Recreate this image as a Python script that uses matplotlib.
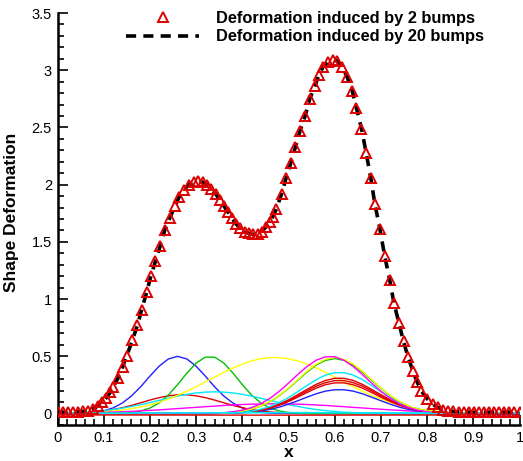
import numpy as np
import matplotlib
matplotlib.use("Agg")
import matplotlib.pyplot as plt
from matplotlib.ticker import MultipleLocator

plt.rcParams['font.family'] = ['Liberation Sans', 'DejaVu Sans']

# =========================
# DADOS
# =========================
# curva total (pontos da malha)
x_curve = [0.000, 0.011, 0.022, 0.033, 0.044, 0.055, 0.066, 0.076, 0.087, 0.097,
           0.106, 0.114, 0.121, 0.131, 0.141, 0.150, 0.162, 0.173, 0.182, 0.193,
           0.202, 0.212, 0.222, 0.232, 0.243, 0.254, 0.263, 0.273, 0.284, 0.295,
           0.305, 0.315, 0.324, 0.333, 0.342, 0.351, 0.360, 0.369, 0.377, 0.386,
           0.395, 0.405, 0.414, 0.424, 0.433, 0.442, 0.451, 0.459, 0.466, 0.474,
           0.485, 0.495, 0.505, 0.515, 0.525, 0.536, 0.546, 0.557, 0.566, 0.575,
           0.586, 0.596, 0.606, 0.616, 0.627, 0.638, 0.647, 0.658, 0.668, 0.678,
           0.687, 0.698, 0.708, 0.719, 0.728, 0.739, 0.749, 0.759, 0.769, 0.778,
           0.787, 0.800, 0.812, 0.823, 0.835, 0.846, 0.857, 0.868, 0.879, 0.890,
           0.901, 0.912, 0.923, 0.934, 0.945, 0.956, 0.967, 0.978, 0.989, 1.000]

y_two_bumps = [0.012, 0.012, 0.012, 0.013, 0.015, 0.018, 0.025, 0.040, 0.065, 0.100,
               0.140, 0.185, 0.235, 0.309, 0.410, 0.506, 0.640, 0.770, 0.906, 1.060,
               1.200, 1.330, 1.460, 1.600, 1.710, 1.810, 1.890, 1.950, 2.000, 2.020,
               2.030, 2.020, 2.000, 1.965, 1.920, 1.870, 1.815, 1.760, 1.710, 1.660,
               1.620, 1.590, 1.575, 1.565, 1.570, 1.590, 1.630, 1.670, 1.720, 1.790,
               1.920, 2.060, 2.190, 2.330, 2.470, 2.600, 2.750, 2.860, 2.960, 3.030,
               3.070, 3.090, 3.080, 3.030, 2.940, 2.820, 2.670, 2.490, 2.280, 2.060,
               1.830, 1.610, 1.380, 1.170, 0.970, 0.790, 0.630, 0.490, 0.376, 0.280,
               0.200, 0.130, 0.082, 0.053, 0.035, 0.025, 0.018, 0.015, 0.013, 0.012,
               0.012, 0.012, 0.012, 0.012, 0.012, 0.012, 0.012, 0.012, 0.012, 0.012]

y_twenty_bumps = y_two_bumps

# bumps individuais (grade de 0.02)
x_bump = np.linspace(0, 1, 51)

blue_1 = [0.000, 0.001, 0.002, 0.004, 0.011, 0.024, 0.049, 0.091, 0.153, 0.234,
          0.327, 0.414, 0.477, 0.500, 0.477, 0.414, 0.327, 0.234, 0.153, 0.091,
          0.049, 0.024, 0.011, 0.004, 0.002, 0.001, 0, 0, 0, 0,
          0, 0, 0, 0, 0, 0, 0, 0, 0, 0,
          0, 0, 0, 0, 0, 0, 0, 0, 0, 0, 0]

green_1 = [0, 0, 0, 0, 0, 0, 0.001, 0.003, 0.009, 0.022,
           0.048, 0.093, 0.162, 0.253, 0.353, 0.441, 0.493, 0.493, 0.441, 0.353,
           0.253, 0.162, 0.093, 0.048, 0.022, 0.009, 0.003, 0.001, 0, 0,
           0, 0, 0, 0, 0, 0, 0, 0, 0, 0,
           0, 0, 0, 0, 0, 0, 0, 0, 0, 0, 0]

yellow_1 = [0.002, 0.003, 0.004, 0.007, 0.010, 0.015, 0.022, 0.030, 0.042, 0.057,
            0.076, 0.099, 0.127, 0.159, 0.195, 0.234, 0.276, 0.318, 0.360, 0.399,
            0.432, 0.460, 0.479, 0.489, 0.489, 0.479, 0.460, 0.432, 0.399, 0.360,
            0.318, 0.276, 0.234, 0.195, 0.159, 0.127, 0.099, 0.076, 0.057, 0.042,
            0.030, 0.022, 0.015, 0.010, 0.007, 0.004, 0.003, 0.002, 0.001, 0.001, 0.000]

red_left = [0.001, 0.002, 0.004, 0.008, 0.014, 0.022, 0.035, 0.051, 0.071, 0.094,
            0.118, 0.139, 0.155, 0.164, 0.164, 0.155, 0.139, 0.118, 0.094, 0.071,
            0.051, 0.035, 0.022, 0.014, 0.008, 0.004, 0.002, 0.001, 0, 0,
            0, 0, 0, 0, 0, 0, 0, 0, 0, 0,
            0, 0, 0, 0, 0, 0, 0, 0, 0, 0, 0]

cyan_left = [0.003, 0.005, 0.008, 0.012, 0.018, 0.026, 0.035, 0.047, 0.062, 0.078,
             0.096, 0.115, 0.134, 0.152, 0.168, 0.180, 0.187, 0.190, 0.187, 0.180,
             0.168, 0.152, 0.134, 0.115, 0.096, 0.078, 0.062, 0.047, 0.035, 0.026,
             0.018, 0.012, 0.008, 0.005, 0.003, 0.002, 0.001, 0, 0, 0,
             0, 0, 0, 0, 0, 0, 0, 0, 0, 0, 0]

magenta_wide = [0.003, 0.004, 0.005, 0.006, 0.008, 0.010, 0.013, 0.016, 0.019, 0.023,
                0.028, 0.032, 0.038, 0.043, 0.049, 0.054, 0.060, 0.065, 0.071, 0.075,
                0.079, 0.082, 0.084, 0.085, 0.085, 0.084, 0.082, 0.079, 0.075, 0.071,
                0.065, 0.060, 0.054, 0.049, 0.043, 0.038, 0.032, 0.028, 0.023, 0.019,
                0.016, 0.013, 0.010, 0.008, 0.006, 0.005, 0.004, 0.003, 0.002, 0.002, 0.001]

yellow_2 = [0, 0, 0, 0, 0, 0, 0, 0, 0, 0,
            0, 0, 0, 0, 0, 0, 0.001, 0.002, 0.005, 0.011,
            0.022, 0.039, 0.066, 0.106, 0.159, 0.224, 0.297, 0.370, 0.432, 0.475,
            0.490, 0.475, 0.432, 0.370, 0.297, 0.224, 0.159, 0.106, 0.066, 0.039,
            0.022, 0.011, 0.005, 0.002, 0.001, 0, 0, 0, 0, 0, 0]

green_2 = [0, 0, 0, 0, 0, 0, 0, 0, 0, 0,
           0, 0, 0, 0, 0, 0, 0.001, 0.002, 0.005, 0.011,
           0.021, 0.038, 0.065, 0.104, 0.156, 0.220, 0.291, 0.362, 0.424, 0.465,
           0.480, 0.465, 0.424, 0.362, 0.291, 0.220, 0.156, 0.104, 0.065, 0.038,
           0.021, 0.011, 0.005, 0.002, 0.001, 0, 0, 0, 0, 0, 0]

magenta_1 = [0, 0, 0, 0, 0, 0, 0, 0, 0, 0,
             0, 0, 0, 0, 0, 0.001, 0.002, 0.004, 0.008, 0.016,
             0.030, 0.052, 0.086, 0.134, 0.194, 0.266, 0.341, 0.411, 0.466, 0.496,
             0.496, 0.466, 0.411, 0.341, 0.266, 0.194, 0.134, 0.086, 0.052, 0.030,
             0.016, 0.008, 0.004, 0.002, 0.001, 0, 0, 0, 0, 0, 0]

cyan_1 = [0, 0, 0, 0, 0, 0, 0, 0, 0, 0,
          0, 0, 0, 0, 0, 0, 0.001, 0.001, 0.003, 0.006,
          0.011, 0.021, 0.038, 0.062, 0.096, 0.140, 0.191, 0.245, 0.296, 0.336,
          0.357, 0.357, 0.336, 0.296, 0.245, 0.191, 0.140, 0.096, 0.062, 0.038,
          0.021, 0.011, 0.006, 0.003, 0.001, 0.001, 0, 0, 0, 0, 0]

red_1 = [0, 0, 0, 0, 0, 0, 0, 0, 0, 0,
         0, 0, 0, 0, 0, 0, 0, 0.001, 0.002, 0.005,
         0.010, 0.018, 0.032, 0.053, 0.083, 0.120, 0.165, 0.211, 0.255, 0.289,
         0.308, 0.308, 0.289, 0.255, 0.211, 0.165, 0.120, 0.083, 0.053, 0.032,
         0.018, 0.010, 0.005, 0.002, 0.001, 0, 0, 0, 0, 0, 0]

red_2 = [0, 0, 0, 0, 0, 0, 0, 0, 0, 0,
         0, 0, 0, 0, 0, 0, 0, 0.001, 0.002, 0.005,
         0.009, 0.017, 0.030, 0.050, 0.077, 0.113, 0.154, 0.198, 0.239, 0.270,
         0.288, 0.288, 0.270, 0.239, 0.198, 0.154, 0.113, 0.077, 0.050, 0.030,
         0.017, 0.009, 0.005, 0.002, 0.001, 0, 0, 0, 0, 0, 0]

red_3 = [0, 0, 0, 0, 0, 0, 0, 0, 0, 0,
         0, 0, 0, 0, 0, 0, 0, 0.001, 0.002, 0.004,
         0.009, 0.016, 0.028, 0.047, 0.072, 0.105, 0.143, 0.184, 0.222, 0.252,
         0.268, 0.268, 0.252, 0.222, 0.184, 0.143, 0.105, 0.072, 0.047, 0.028,
         0.016, 0.009, 0.004, 0.002, 0.001, 0, 0, 0, 0, 0, 0]

blue_2 = [0, 0, 0, 0, 0, 0, 0, 0, 0, 0,
          0, 0, 0, 0, 0, 0, 0, 0.001, 0.002, 0.003,
          0.007, 0.013, 0.022, 0.036, 0.056, 0.082, 0.112, 0.143, 0.173, 0.196,
          0.208, 0.208, 0.196, 0.173, 0.143, 0.112, 0.082, 0.056, 0.036, 0.022,
          0.013, 0.007, 0.003, 0.002, 0.001, 0, 0, 0, 0, 0, 0]

# bumps quase nulos
x_flat = [0.0, 0.25, 0.5, 0.75, 1.0]
red_flat = [-0.012, -0.013, -0.014, -0.013, -0.012]
cyan_flat = [0.002, 0.005, 0.008, 0.005, 0.002]
x_tail = [0.90, 0.94, 0.96, 0.98, 1.00]
blue_tail = [0.0, -0.004, -0.010, -0.008, -0.003]

x_ticks = [0, 0.1, 0.2, 0.3, 0.4, 0.5, 0.6, 0.7, 0.8, 0.9, 1]
x_tick_labels = ["0", "0.1", "0.2", "0.3", "0.4", "0.5", "0.6", "0.7", "0.8", "0.9", "1"]
y_ticks = [0, 0.5, 1, 1.5, 2, 2.5, 3, 3.5]
y_tick_labels = ["0", "0.5", "1", "1.5", "2", "2.5", "3", "3.5"]


# =========================
# GRAFICO
# =========================
fig = plt.figure(figsize=(5.23, 4.61), dpi=100)
ax = fig.add_axes([57.5 / 523, 0.0781, (519.5 - 57.5) / 523, 0.8937])

bumps = [
    (blue_1, "#2020ff"), (red_left, "#e00000"), (green_1, "#00c000"),
    (cyan_left, "#00e8ff"), (yellow_1, "#ffff00"), (magenta_wide, "#ff00ff"),
    (blue_2, "#2020ff"), (red_3, "#e00000"), (red_2, "#e00000"), (red_1, "#e00000"),
    (cyan_1, "#00e8ff"), (green_2, "#00c000"), (yellow_2, "#ffff00"),
    (magenta_1, "#ff00ff"),
]
for vals, cor in bumps:
    ax.plot(x_bump, vals, color=cor, lw=1.0)

ax.plot(x_flat, red_flat, color="#e00000", lw=1.0)
ax.plot(x_tail, blue_tail, color="#2020ff", lw=1.0)
ax.plot(x_flat, cyan_flat, color="#00e8ff", lw=1.2)

ax.plot(x_curve, y_twenty_bumps, color="black", lw=2.6, ls=(0, (2.8, 2.0)),
        label="Deformation induced by 20 bumps", zorder=4)
ax.plot(x_curve, y_two_bumps, ls="none", marker="^", ms=6.5, mfc="none",
        mec="#dd0000", mew=1.4, label="Deformation induced by 2 bumps", zorder=5)

ax.set_xlim(0, 1)
ax.set_ylim(-0.1, 3.5)

ax.set_xticks(x_ticks)
ax.set_xticklabels(x_tick_labels)
ax.set_yticks(y_ticks)
ax.set_yticklabels(y_tick_labels)
ax.xaxis.set_minor_locator(MultipleLocator(0.02))
ax.yaxis.set_minor_locator(MultipleLocator(0.1))

ax.tick_params(which="both", direction="in", labelsize=10.5, width=1.2)
ax.tick_params(which="major", length=7, pad=4)
ax.tick_params(which="minor", length=4)
ax.tick_params(top=False, right=False, which="both")

ax.spines["top"].set_visible(False)
ax.spines["right"].set_visible(False)
ax.spines["left"].set_linewidth(1.8)
ax.spines["bottom"].set_linewidth(1.8)

ax.set_xlabel("x", fontsize=12.5, fontweight="bold", labelpad=0)
ax.set_ylabel("Shape Deformation", fontsize=12.5, fontweight="bold")
ax.yaxis.set_label_coords(-0.083, 0.517)

handles, labels = ax.get_legend_handles_labels()
leg = ax.legend(handles[::-1], labels[::-1], loc="upper right",
                bbox_to_anchor=(492 / 523, 1 - 3 / 461), bbox_transform=fig.transFigure,
                frameon=False, borderpad=0, numpoints=1, handlelength=4.5,
                handletextpad=1.0, labelspacing=0.2,
                prop={"size": 11.8, "weight": "bold"})

fig.savefig("out.png", dpi=100)
